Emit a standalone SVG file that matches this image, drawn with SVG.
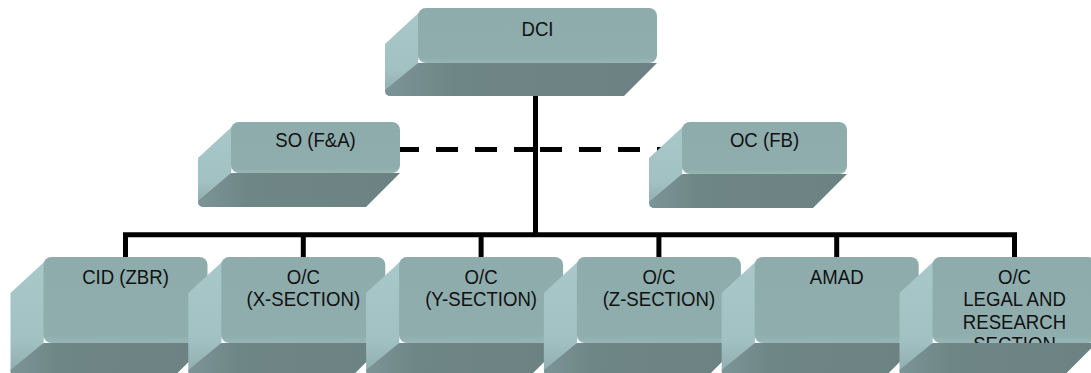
<svg xmlns="http://www.w3.org/2000/svg" width="1091" height="373" viewBox="0 0 1091 373">
  <style>
    .side { fill: url(#gSide); }
    .base { fill: url(#gBase); }
    .face { fill: url(#gFace); }
    .lbl { font-family: "Liberation Sans", Arial, sans-serif; font-size: 20px; fill: #111; text-anchor: middle; }
    .wire { fill: none; stroke: #000; stroke-width: 5; }
    .dash { fill: none; stroke: #000; stroke-width: 5; stroke-dasharray: 22 17; }
  </style>
  <defs>
    <linearGradient id="gSide" x1="0" y1="0" x2="0" y2="1">
      <stop offset="0" stop-color="#a9c8ca"/>
      <stop offset="0.7" stop-color="#a2c1c3"/>
      <stop offset="1" stop-color="#8eaaac"/>
    </linearGradient>
    <linearGradient id="gBase" x1="0" y1="0" x2="1" y2="0">
      <stop offset="0" stop-color="#7b9495"/>
      <stop offset="0.25" stop-color="#6f8687"/>
      <stop offset="1" stop-color="#6c8282"/>
    </linearGradient>
    <linearGradient id="gFace" x1="0" y1="0" x2="0" y2="1">
      <stop offset="0" stop-color="#8eacac"/>
      <stop offset="0.9" stop-color="#8fadad"/>
      <stop offset="1" stop-color="#98b5b5"/>
    </linearGradient>
  </defs>

  <!-- connectors -->
  <g id="connectors">
    <line class="wire" x1="535.5" y1="90" x2="535.5" y2="234.8"/>
    <path class="dash" d="M397,149.5 H536"/>
    <path class="dash" d="M540,149.5 H662"/>
    <path class="wire" d="M125.5,260 V234.8 H1014.5 V260" stroke-linejoin="miter"/>
    <line class="wire" x1="303.3" y1="234.8" x2="303.3" y2="260"/>
    <line class="wire" x1="481.1" y1="234.8" x2="481.1" y2="260"/>
    <line class="wire" x1="658.9" y1="234.8" x2="658.9" y2="260"/>
    <line class="wire" x1="836.7" y1="234.8" x2="836.7" y2="260"/>
  </g>

  <!-- DCI: front 418,8 239x55 -->
  <g id="dci">
    <path class="side" d="M424,8 L385,44 L385,90 Q385,96 391,96 L418,63 Z"/>
    <rect class="face" x="418" y="8" width="239" height="55" rx="8"/>
    <path class="base" d="M418,63 L657,63 L624,96 L391,96 Q385,96 385,90 Z"/>
    <text class="lbl" transform="translate(537.5 36) scale(0.93 1)">DCI</text>
  </g>

  <!-- SO (F&A): front 231,122 169x51 -->
  <g id="so-fa">
    <path class="side" d="M237,122 L198,158 L198,201 Q198,207 204,207 L231,173 Z"/>
    <rect class="face" x="231" y="122" width="169" height="51" rx="8"/>
    <path class="base" d="M231,173 L400,173 L366,207 L204,207 Q198,207 198,201 Z"/>
    <text class="lbl" transform="translate(315.5 147) scale(0.93 1)">SO (F&amp;A)</text>
  </g>

  <!-- OC (FB): front 682,122 165x52 -->
  <g id="oc-fb">
    <path class="side" d="M688,122 L649,158 L649,202 Q649,208 655,208 L682,174 Z"/>
    <rect class="face" x="682" y="122" width="165" height="52" rx="8"/>
    <path class="base" d="M682,174 L847,174 L813,208 L655,208 Q649,208 649,202 Z"/>
    <text class="lbl" transform="translate(764.5 147) scale(0.93 1)">OC (FB)</text>
  </g>

  <!-- lower row: front 164x86 at y=257, depth 33 -->
  <g id="cid-zbr">
    <path class="side" d="M49.5,257 L10.5,293 L10.5,370 Q10.5,376 16.5,376 L43.5,343 Z"/>
    <rect class="face" x="43.5" y="257" width="164" height="86" rx="8"/>
    <path class="base" d="M43.5,343 L207.5,343 L174.5,376 L16.5,376 Q10.5,376 10.5,370 Z"/>
    <text class="lbl" transform="translate(125.5 284) scale(0.93 1)">CID (ZBR)</text>
  </g>

  <g id="oc-x-section">
    <path class="side" d="M227.3,257 L188.3,293 L188.3,370 Q188.3,376 194.3,376 L221.3,343 Z"/>
    <rect class="face" x="221.3" y="257" width="164" height="86" rx="8"/>
    <path class="base" d="M221.3,343 L385.3,343 L352.3,376 L194.3,376 Q188.3,376 188.3,370 Z"/>
    <text class="lbl" transform="translate(303.3 284) scale(0.93 1)">O/C<tspan x="0" dy="22.5">(X-SECTION)</tspan></text>
  </g>

  <g id="oc-y-section">
    <path class="side" d="M405.1,257 L366.1,293 L366.1,370 Q366.1,376 372.1,376 L399.1,343 Z"/>
    <rect class="face" x="399.1" y="257" width="164" height="86" rx="8"/>
    <path class="base" d="M399.1,343 L563.1,343 L530.1,376 L372.1,376 Q366.1,376 366.1,370 Z"/>
    <text class="lbl" transform="translate(481.1 284) scale(0.93 1)">O/C<tspan x="0" dy="22.5">(Y-SECTION)</tspan></text>
  </g>

  <g id="oc-z-section">
    <path class="side" d="M582.9,257 L543.9,293 L543.9,370 Q543.9,376 549.9,376 L576.9,343 Z"/>
    <rect class="face" x="576.9" y="257" width="164" height="86" rx="8"/>
    <path class="base" d="M576.9,343 L740.9,343 L707.9,376 L549.9,376 Q543.9,376 543.9,370 Z"/>
    <text class="lbl" transform="translate(658.9 284) scale(0.93 1)">O/C<tspan x="0" dy="22.5">(Z-SECTION)</tspan></text>
  </g>

  <g id="amad">
    <path class="side" d="M760.7,257 L721.7,293 L721.7,370 Q721.7,376 727.7,376 L754.7,343 Z"/>
    <rect class="face" x="754.7" y="257" width="164" height="86" rx="8"/>
    <path class="base" d="M754.7,343 L918.7,343 L885.7,376 L727.7,376 Q721.7,376 721.7,370 Z"/>
    <text class="lbl" transform="translate(836.7 284) scale(0.93 1)">AMAD</text>
  </g>

  <g id="oc-legal-research">
    <path class="side" d="M938.5,257 L899.5,293 L899.5,370 Q899.5,376 905.5,376 L932.5,343 Z"/>
    <rect class="face" x="932.5" y="257" width="164" height="86" rx="8"/>
    <text class="lbl" transform="translate(1014.5 284) scale(0.93 1)">O/C<tspan x="0" dy="22.5">LEGAL AND</tspan><tspan x="0" dy="22.5">RESEARCH</tspan><tspan x="0" dy="22.5">SECTION</tspan></text>
    <path class="base" d="M932.5,343 L1096.5,343 L1063.5,376 L905.5,376 Q899.5,376 899.5,370 Z"/>
  </g>
</svg>
